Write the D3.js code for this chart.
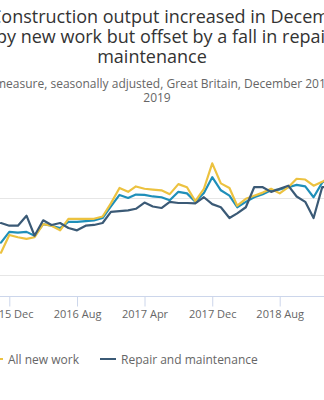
<!DOCTYPE html>
<html>
<head>
<meta charset="utf-8">
<script src="https://cdn.jsdelivr.net/npm/d3@7"></script>
<style>
  body { margin: 0; background: #fff; overflow: hidden; }
  svg { display: block; font-family: "Open Sans", sans-serif; }
</style>
</head>
<body>
<svg></svg>
<script>
// construction output by type of work, monthly index

let svgWidth = 324;
let svgHeight = 400;

let months = ["2015-11", "2015-12",
	"2016-01", "2016-02", "2016-03", "2016-04", "2016-05", "2016-06",
	"2016-07", "2016-08", "2016-09", "2016-10", "2016-11", "2016-12",
	"2017-01", "2017-02", "2017-03", "2017-04", "2017-05", "2017-06",
	"2017-07", "2017-08", "2017-09", "2017-10", "2017-11", "2017-12",
	"2018-01", "2018-02", "2018-03", "2018-04", "2018-05", "2018-06",
	"2018-07", "2018-08", "2018-09", "2018-10", "2018-11", "2018-12",
	"2019-01", "2019-02"];

let allWork = [94.2, 95.6,
	95.5, 95.6, 95.1, 96.6, 96.4, 96.1,
	96.9, 96.9, 97.0, 97.1, 97.4, 98.9,
	100.4, 100.0, 100.45, 100.4, 100.2, 100.1,
	99.7, 100.8, 100.6, 99.5, 100.65, 102.7,
	101.0, 100.3, 98.8, 99.5, 100.1, 100.5,
	101.0, 101.1, 101.4, 101.7, 101.5, 100.1,
	102.0, 102.6];

let allNewWork = [92.9, 95.2,
	94.9, 94.7, 94.9, 96.6, 96.4, 95.8,
	97.3, 97.3, 97.3, 97.3, 97.6, 99.3,
	101.3, 100.8, 101.5, 101.2, 101.1, 101.0,
	100.5, 101.8, 101.4, 99.6, 101.2, 104.5,
	101.9, 101.3, 99.0, 99.9, 100.3, 100.7,
	101.2, 100.6, 101.4, 102.5, 102.4, 101.6,
	102.1, 102.8];

let repair = [96.75, 96.4,
	96.4, 97.7, 95.1, 97.1, 96.5, 96.75,
	96.1, 95.8, 96.4, 96.5, 96.75, 98.2,
	98.3, 98.4, 98.6, 99.4, 98.9, 98.7,
	99.5, 99.35, 99.35, 99.3, 100.1, 99.2,
	98.8, 97.4, 98.0, 98.8, 101.4, 101.4,
	100.8, 101.2, 101.6, 100.2, 99.5, 97.4,
	101.4, 101.5];

let tickLabels = ["2015 Dec", "2016 Aug", "2017 Apr", "2017 Dec", "2018 Aug"];
let yTicks = [90, 100];

let seriesNames = ["All work", "All new work", "Repair and maintenance"];
let colors = ["#1f8fb9", "#ecc240", "#3b5a76"];

let titleLines = ["Construction output increased in December 2019, driven",
	"by new work but offset by a fall in repair and",
	"maintenance"];
let subtitleLines = ["Index, chained volume measure, seasonally adjusted, Great Britain, December 2014 to December",
	"2019"];

let svg = d3.select("svg")
	.attr("width", svgWidth)
	.attr("height", svgHeight);

let parseMonth = d3.timeParse("%Y-%m");
let parseTick = d3.timeParse("%Y %b");

let xScale = d3.scaleTime()
	.domain([parseTick("2015 Dec"), parseTick("2018 Aug")])
	.range([9.3, 279.7]);

let yScale = d3.scaleLinear()
	.domain([90, 100])
	.range([275, 198]);

let plotBottom = 296;

// gridlines
svg.append("g")
	.selectAll("line")
	.data(yTicks)
	.enter()
	.append("line")
	.attr("x1", 0)
	.attr("x2", svgWidth)
	.attr("y1", d => Math.round(yScale(d)) + 0.5)
	.attr("y2", d => Math.round(yScale(d)) + 0.5)
	.attr("stroke", "#e6e6e6")
	.attr("stroke-width", 1);

// x axis
let xAxis = d3.axisBottom(xScale)
	.tickValues(tickLabels.map(parseTick))
	.tickFormat(d3.timeFormat("%Y %b"))
	.tickSize(10)
	.tickPadding(4)
	.tickSizeOuter(0);

let gx = svg.append("g")
	.attr("transform", "translate(0," + (plotBottom + 0.5) + ")")
	.call(xAxis);
gx.select(".domain").remove();
gx.insert("line", ":first-child")
	.attr("x1", 0).attr("x2", svgWidth)
	.attr("stroke", "#ccd6eb");
gx.selectAll(".tick line").attr("stroke", "#ccd6eb");
gx.selectAll(".tick text")
	.attr("fill", "#666")
	.style("font-size", "11px")
	.style("font-family", "'Open Sans', sans-serif");

// lines
let allSeries = [allWork, allNewWork, repair];
let line = d3.line()
	.x((d, i) => xScale(parseMonth(months[i])))
	.y(d => yScale(d));

svg.append("g")
	.selectAll("path")
	.data(allSeries)
	.enter()
	.append("path")
	.attr("d", d => line(d))
	.attr("fill", "none")
	.attr("stroke", (d, i) => colors[i])
	.attr("stroke-width", 2.2)
	.attr("stroke-linejoin", "round")
	.attr("stroke-linecap", "round");

// title
let title = svg.append("g").attr("fill", "#333").style("font-size", "18px");
title.append("text").attr("x", -10).attr("y", 23).text(titleLines[0]);
title.append("text").attr("x", -4).attr("y", 43).text(titleLines[1]);
title.append("text").attr("x", 152).attr("y", 63).attr("text-anchor", "middle").text(titleLines[2]);

// subtitle
let sub = svg.append("g").attr("fill", "#666").style("font-size", "12px");
let sub1 = sub.append("text").attr("y", 87.5).text(subtitleLines[0]);
let cut = subtitleLines[0].indexOf("measure");
let pre = sub1.node().getSubStringLength(0, cut);
sub1.attr("x", -5 - pre);
sub.append("text").attr("x", 157).attr("y", 101.5).attr("text-anchor", "middle").text(subtitleLines[1]);

// legend
let legend = svg.append("g").style("font-size", "12px");
let widths = seriesNames.map(function (name) {
	let t = legend.append("text").text(name);
	let w = t.node().getComputedTextLength();
	t.remove();
	return w;
});
let itemX = [0, 0, 100];
itemX[1] = itemX[2] - 21 - (16 + 5 + widths[1]);
itemX[0] = itemX[1] - 21 - (16 + 5 + widths[0]);

let items = legend.selectAll("g")
	.data(seriesNames)
	.enter()
	.append("g")
	.attr("transform", (d, i) => "translate(" + itemX[i] + ",0)");
items.append("line")
	.attr("x1", 0).attr("x2", 16)
	.attr("y1", 359).attr("y2", 359)
	.attr("stroke", (d, i) => colors[i])
	.attr("stroke-width", 2);
items.append("text")
	.attr("x", 21)
	.attr("y", 364)
	.attr("fill", "#666")
	.text(d => d);
</script>
</body>
</html>
